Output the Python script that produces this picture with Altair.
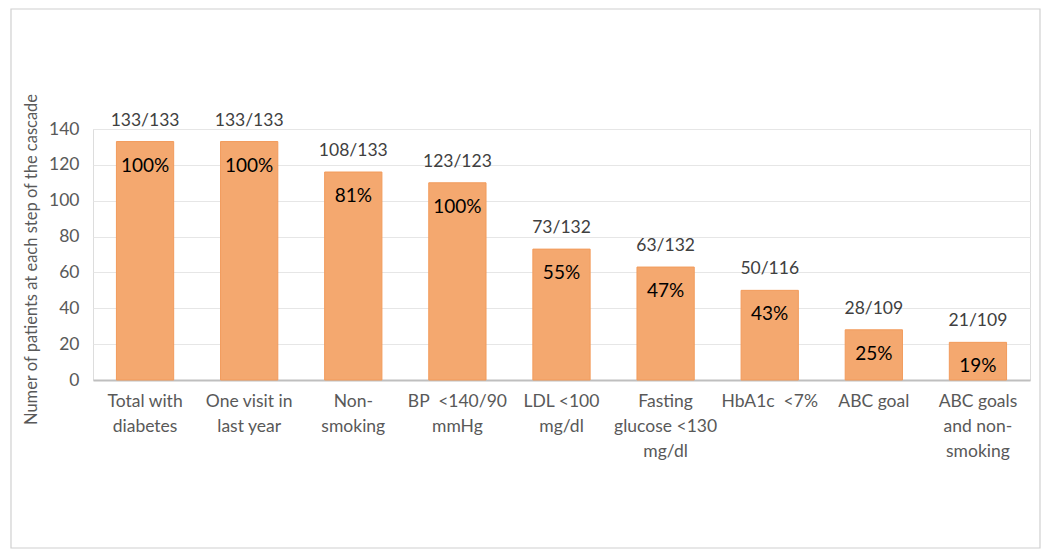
import altair as alt
import pandas as pd

categories = [
    "Total with|diabetes",
    "One visit in|last year",
    "Non-|smoking",
    "BP\u00a0 <140/90|mmHg",
    "LDL <100|mg/dl",
    "Fasting|glucose <130|mg/dl",
    "HbA1c\u00a0 <7%",
    "ABC goal",
    "ABC goals|and non-|smoking",
]
values = [133, 133, 116, 110, 73, 63, 50, 28, 21]
fractions = ["133/133", "133/133", "108/133", "123/123", "73/132", "63/132", "50/116", "28/109", "21/109"]
percents = ["100%", "100%", "81%", "100%", "55%", "47%", "43%", "25%", "19%"]
y_ticks = [0, 20, 40, 60, 80, 100, 120, 140]

df = pd.DataFrame({"cat": categories, "val": values, "frac": fractions, "pct": percents})

W, H = 937, 251
FONT = "Lato"

x = alt.X("cat:N", sort=categories, title=None,
          scale=alt.Scale(paddingInner=0.45, paddingOuter=0.225),
          axis=alt.Axis(labelExpr="split(datum.label, '|')", labelAngle=0,
                        labelFont=FONT, labelFontSize=17.5, labelColor="#595959",
                        labelLineHeight=25, labelPadding=12, labelBaseline="top",
                        ticks=False, domainColor="#bfbfbf", domainWidth=2,
                        labelLimit=200))
y = alt.Y("val:Q", title="Numer of patients at each step of the cascade",
          scale=alt.Scale(domain=[0, 140], nice=False),
          axis=alt.Axis(values=y_ticks, labelFont=FONT, labelFontSize=17.5,
                        labelColor="#595959", labelPadding=14, ticks=False,
                        labelOverlap=False,
                        domain=False, gridColor="#e6e6e6", gridWidth=1.2,
                        titleFont=FONT, titleFontSize=16.5, titleFontWeight="normal",
                        titleColor="#595959", titlePadding=9, titleY=130))

base = alt.Chart(df).encode(x=x, y=y)

bars = base.mark_bar(color="#F4A86F", stroke="#F29B5C", strokeWidth=1)

frac = base.mark_text(font=FONT, fontSize=17.5, color="#404040", baseline="middle", dy=-21).encode(
    text="frac:N")

pct = base.mark_text(font=FONT, fontSize=19, color="#000000", baseline="middle", dy=24).encode(
    text="pct:N")

border = alt.Chart(pd.DataFrame({"k": [0]})).mark_rect(
    filled=False, stroke="#d0d0d0", strokeWidth=1.2
).encode(x=alt.value(-82), x2=alt.value(947), y=alt.value(-120), y2=alt.value(419))

chart = alt.layer(bars, frac, pct, border).properties(
    width=W, height=H,
    autosize=alt.AutoSizeParams(type="none"),
    padding={"left": 85, "top": 121, "right": 12, "bottom": 170},
).configure_view(stroke=None).configure(background="white")

chart.save("out.html", embed_options={"renderer": "svg", "actions": False})
